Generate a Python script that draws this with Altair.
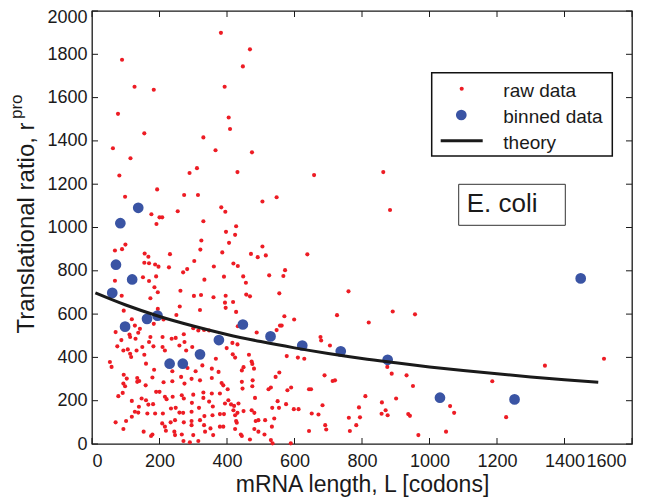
import altair as alt
import pandas as pd

# ---------------- data ----------------
raw_L = [382,468,89,447,126,393,183,77,405,409,155,330,62,366,474,114,311,289,431,658,81,193,273,314,98,547,505,383,254,395,176,200,208,191,330,427,397,424,324,406,99,505,89,68,321,863,883,
         156,167,155,169,187,197,231,228,303,282,270,361,68,151,190,169,185,195,173,88,262,333,302,323,360,260,195,94,250,320,118,127,103,183,142,137,70,111,300,315,332,347,272,212,
         386,471,491,515,638,419,432,572,391,448,525,567,456,396,457,468,555,394,418,396,427,570,599,557,562,547,488,432,
         760,726,820,891,957,
         87,113,129,75,93,106,113,116,132,149,173,182,209,216,155,169,236,248,259,274,279,297,209,53,58,160,184,238,283,307,327,355,94,103,93,98,134,140,134,159,179,212,238,264,274,295,320,355,78,91,118,147,160,190,200,216,221,239,266,272,300,296,330,330,355,347,358,139,167,181,127,137,118,164,187,210,234,248,259,270,295,317,333,320,295,272,246,233,208,70,101,93,153,179,175,216,219,244,246,266,271,290,300,315,332,335,351,359,357,295,
         399,416,431,367,417,424,465,473,475,480,449,444,375,384,389,402,379,444,446,476,475,483,404,394,412,421,434,379,391,419,424,431,427,449,473,481,379,389,424,429,441,444,481,493,511,485,493,513,468,530,535,533,540,534,550,554,575,523,530,544,555,579,590,598,612,589,577,610,629,643,649,651,671,643,683,689,713,691,694,679,677,705,
         875,888,932,951,810,791,859,901,870,858,876,794,761,783,764,937,942,967,1061,1073,1049,720,
         1186,1342,1517,1227]
raw_r = [1899,1823,1775,1744,1650,1650,1636,1525,1508,1455,1435,1416,1366,1357,1347,1320,1274,1252,1256,1242,1240,1176,1150,1150,1142,1140,1120,1093,1075,1073,1061,1047,1047,1016,1029,1006,980,966,940,929,921,912,900,894,898,1256,1081,
         880,865,837,835,829,819,877,816,845,808,793,820,754,770,774,753,724,701,673,685,708,759,684,688,678,635,624,616,596,619,576,547,553,555,532,514,517,506,535,524,527,524,507,575,
         885,878,863,871,876,834,822,803,773,774,779,776,745,685,690,682,696,653,656,629,610,590,575,547,547,526,515,544,
         705,595,561,612,599,
         480,494,486,451,432,437,417,402,432,448,494,451,448,432,412,471,486,490,455,471,432,448,494,379,356,371,343,336,351,336,363,348,320,302,279,267,305,291,287,271,307,285,290,310,279,301,294,305,221,236,199,210,202,241,241,218,207,218,225,210,228,190,238,213,233,196,173,172,182,184,149,145,126,141,141,141,164,167,145,144,149,167,129,110,106,100,110,100,95,100,106,69,57,44,37,80,61,57,41,44,14,8,41,14,87,57,72,41,133,87,
         443,467,460,394,414,399,412,381,370,348,355,340,333,282,271,253,233,287,256,294,267,213,202,187,183,176,187,138,138,156,133,144,106,152,156,144,80,80,69,98,44,37,69,57,44,106,110,110,21,18,3,80,118,167,198,167,184,253,261,310,330,248,261,161,161,3,406,399,394,253,253,141,136,60,179,317,291,87,67,478,494,455,
         356,325,317,268,221,169,192,210,156,140,133,123,121,87,60,138,130,41,175,144,57,294,
         290,362,394,124]

bin_L = [60, 71, 84, 98, 119, 137, 163, 194, 230, 269, 320, 376, 447, 529, 623, 737, 876, 1031, 1252, 1448]
bin_r = [698, 828, 1020, 542, 760, 1091, 578, 593, 371, 371, 414, 480, 552, 497, 455, 428, 389, 214, 206, 765]

theory_L = [10, 100, 200, 300, 400, 500, 600, 700, 800, 900, 1000, 1100, 1200, 1300, 1400, 1500]
theory_r = [698, 642, 589, 545, 506, 473, 444, 418, 395, 375, 356, 339, 324, 310, 297, 285]

x_ticks = [0, 200, 400, 600, 800, 1000, 1200, 1400, 1600]
y_ticks = [0, 200, 400, 600, 800, 1000, 1200, 1400, 1600, 1800, 2000]

raw_df = pd.DataFrame({"L": raw_L, "r": raw_r})
bin_df = pd.DataFrame({"L": bin_L, "r": bin_r})
th_df = pd.DataFrame({"L": theory_L, "r": theory_r})
xt_df = pd.DataFrame({"L": x_ticks})
yt_df = pd.DataFrame({"r": y_ticks})
one = pd.DataFrame({"a": [0]})

# ---------------- style ----------------
W, H = 540, 433
FONT = "Liberation Sans"
INK = "#1a1a1a"
RED = "#ED1C24"
BLUE = "#3A54A4"

xscale = alt.Scale(domain=[0, 1600], nice=False, zero=False)
yscale = alt.Scale(domain=[0, 2000], nice=False, zero=False)

xaxis = alt.Axis(
    values=x_ticks, format="d", ticks=False, tickSize=0, domain=False, grid=False,
    labelFont=FONT, labelFontSize=18, labelColor=INK, labelPadding=8,
    labelOffset={"condition": {"test": "datum.value == 1600", "value": -6}, "value": 0},
    title="mRNA length, L [codons]", titleFont=FONT, titleFontSize=23, titleFontWeight="normal",
    titleColor=INK, titleX=W / 2, titleY=47, titleAlign="center", titleBaseline="alphabetic",
)
yaxis = alt.Axis(
    values=y_ticks, format="d", ticks=False, tickSize=0, domain=False, grid=False,
    labelFont=FONT, labelFontSize=18, labelColor=INK, labelPadding=5,
    labelOffset={"condition": {"test": "datum.value == 2000", "value": 6}, "value": 0},
    title="Translational ratio, r", titleFont=FONT, titleFontSize=24, titleFontWeight="normal",
    titleColor=INK, titleAngle=270, titleX=-59, titleY=H / 2, titleAlign="center",
    titleBaseline="alphabetic",
)

X = alt.X("L:Q", scale=xscale, axis=xaxis)
Y = alt.Y("r:Q", scale=yscale, axis=yaxis)

raw = alt.Chart(raw_df).mark_circle(size=17, color=RED, opacity=1).encode(x=X, y=Y)
binned = alt.Chart(bin_df).mark_circle(size=115, color=BLUE, opacity=1).encode(x=X, y=Y)
theory = alt.Chart(th_df).mark_line(color=INK, strokeWidth=3, interpolate="monotone").encode(x=X, y=Y)

# inward ticks on all four sides
tick_bottom = alt.Chart(xt_df).mark_rule(color=INK, strokeWidth=1).encode(x=X, y=alt.value(H), y2=alt.value(H - 6))
tick_top = alt.Chart(xt_df).mark_rule(color=INK, strokeWidth=1).encode(x=X, y=alt.value(0), y2=alt.value(6))
tick_left = alt.Chart(yt_df).mark_rule(color=INK, strokeWidth=1).encode(y=Y, x=alt.value(0), x2=alt.value(6))
tick_right = alt.Chart(yt_df).mark_rule(color=INK, strokeWidth=1).encode(y=Y, x=alt.value(W), x2=alt.value(W - 6))

# superscript of the y title
sup = alt.Chart(one).mark_text(text="pro", font=FONT, fontSize=17, color=INK, angle=270,
                               align="left", baseline="alphabetic").encode(x=alt.value(-70), y=alt.value(108))

# legend box
leg_box = alt.Chart(one).mark_rect(fill="white", stroke="#111111", strokeWidth=1.5).encode(
    x=alt.value(339.7), x2=alt.value(520.3), y=alt.value(61.7), y2=alt.value(145))
leg_raw = alt.Chart(one).mark_circle(size=17, color=RED, opacity=1).encode(x=alt.value(369.7), y=alt.value(77.7))
leg_bin = alt.Chart(one).mark_circle(size=115, color=BLUE, opacity=1).encode(x=alt.value(369.3), y=alt.value(104))
leg_line = alt.Chart(one).mark_rule(color=INK, strokeWidth=3).encode(x=alt.value(348.7), x2=alt.value(390.7), y=alt.value(129.7))
leg_t1 = alt.Chart(one).mark_text(text="raw data", font=FONT, fontSize=19, color=INK, align="left", baseline="middle").encode(x=alt.value(411.3), y=alt.value(80))
leg_t2 = alt.Chart(one).mark_text(text="binned data", font=FONT, fontSize=19, color=INK, align="left", baseline="middle").encode(x=alt.value(411.3), y=alt.value(105.5))
leg_t3 = alt.Chart(one).mark_text(text="theory", font=FONT, fontSize=19, color=INK, align="left", baseline="middle").encode(x=alt.value(411.3), y=alt.value(131.5))

# E. coli annotation box
ec_box = alt.Chart(one).mark_rect(fill="white", stroke="#333333", strokeWidth=1).encode(
    x=alt.value(366.7), x2=alt.value(473.3), y=alt.value(173.3), y2=alt.value(214.3))
ec_txt = alt.Chart(one).mark_text(text="E. coli", font=FONT, fontSize=26, color=INK, align="left", baseline="alphabetic").encode(
    x=alt.value(374.7), y=alt.value(200.7))

chart = alt.layer(
    raw, binned, theory,
    tick_bottom, tick_top, tick_left, tick_right,
    sup, leg_box, leg_raw, leg_bin, leg_line, leg_t1, leg_t2, leg_t3, ec_box, ec_txt,
).properties(
    width=W, height=H,
    autosize=alt.AutoSizeParams(type="none"),
    padding={"left": 84, "top": 3, "right": 14, "bottom": 56},
    background="white",
).configure_view(stroke=INK, strokeWidth=1.3)

chart.save("out.html", embed_options={"renderer": "svg", "actions": False})
